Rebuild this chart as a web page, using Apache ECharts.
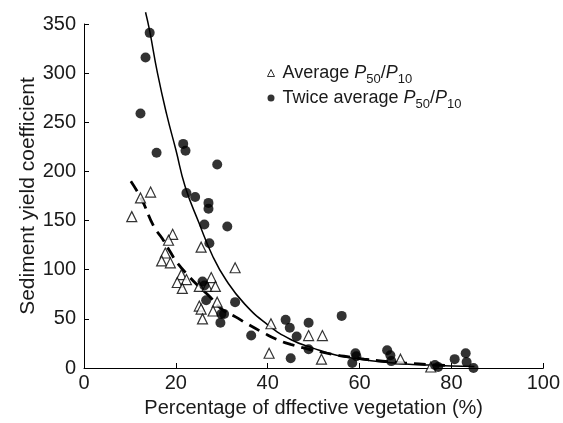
<!DOCTYPE html>
<html>
<head>
<meta charset="utf-8">
<script src="https://cdn.jsdelivr.net/npm/echarts@6/dist/echarts.min.js"></script>
<style>
  html, body { margin: 0; padding: 0; background: #fff; }
  #chart { width: 563px; height: 423px; }
</style>
</head>
<body>
<div id="chart"></div>
<script>
// average P50/P10 (open triangles)
const avgX = [10.4, 12.3, 14.5, 19.3, 18.4, 17.7, 16.9, 18.8, 21.2, 20.3, 22.3, 21.4, 25.5, 27.7, 25.1, 26.8,
  28.6, 32.9, 29.0, 25.1, 25.5, 28.1, 25.8, 40.7, 40.3, 48.9, 51.9, 51.7, 68.9, 75.5]
const avgY = [154, 173, 179, 136, 130, 117, 109, 107, 95, 87, 90, 81, 123, 92, 83, 83,
  83, 102, 67, 63, 60, 58, 50, 45, 15, 33, 33, 9, 9, 1]

// twice average P50/P10 (filled dots)
const twiceX = [14.3, 13.4, 12.3, 15.8, 21.6, 22.1, 29.0, 22.3, 24.2, 27.1, 27.1, 26.2, 31.2, 27.3, 25.8, 26.2,
  26.6, 29.9, 30.5, 29.7, 32.9, 36.4, 43.9, 44.8, 46.3, 48.9, 48.9, 45.0, 56.1, 59.1, 59.3, 58.4,
  66.0, 66.7, 66.9, 76.4, 77.1, 80.7, 83.1, 83.3, 84.8]
const twiceY = [341, 316, 259, 219, 228, 221, 207, 178, 174, 168, 162, 146, 144, 127, 88, 84,
  69, 55, 55, 46, 67, 33, 49, 41, 32, 46, 19, 10, 53, 15, 12, 5,
  18, 13, 7, 3, 1, 9, 15, 6, 0]

// fitted curves
const fitTwiceX = [13.4, 14.3, 16, 18, 20, 22, 25, 28, 31, 35, 40, 45, 50, 55, 60, 65, 70, 75, 80, 85]
const fitTwiceY = [362, 343, 300, 258, 222, 185, 148, 114, 89, 65, 44, 29, 20, 13, 9, 6, 4, 3, 2, 1.5]
const fitAvgX = [10.2, 12.6, 15.2, 17, 18.8, 20.3, 22.9, 25, 27.3, 30, 33, 35.5, 39, 42, 45, 50, 54, 58, 61, 65, 70, 75, 80]
const fitAvgY = [190, 171, 144, 132, 118, 107, 93, 83, 73, 60, 52, 45, 36, 29, 24, 18, 14, 11, 9, 7, 5, 3.5, 2.5]

const zip = (xs, ys) => xs.map((x, i) => [x, ys[i]])

const font = 'Liberation Sans, Arial, sans-serif'
const txt = '#1a1a1a'

const legendRich = {
  n: { fontSize: 18, fontFamily: font, color: txt, lineHeight: 26, verticalAlign: 'middle' },
  f: { fontSize: 18, fontFamily: font, color: txt, lineHeight: 26, verticalAlign: 'middle', padding: [0, 0, 0, 3] },
  i: { fontSize: 18, fontFamily: font, color: txt, fontStyle: 'italic', lineHeight: 26, verticalAlign: 'middle' },
  s: { fontSize: 13, fontFamily: font, color: txt, lineHeight: 13, verticalAlign: 'bottom' }
}

const chart = echarts.init(document.getElementById('chart'))
chart.setOption({
  backgroundColor: '#fff',
  animation: false,
  grid: { left: 84, right: 17, top: 24, bottom: 54 },
  legend: {
    orient: 'vertical',
    left: 262,
    top: 59,
    itemWidth: 7,
    itemHeight: 7,
    itemGap: 3,
    data: ['avg', 'twice'],
    itemStyle: { borderWidth: 1 },
    formatter: function (name) {
      if (name === 'avg') return '{f|Average }{i|P}{s|50}{n|/}{i|P}{s|10}'
      return '{f|Twice average }{i|P}{s|50}{n|/}{i|P}{s|10}'
    },
    textStyle: { rich: legendRich }
  },
  xAxis: {
    type: 'value',
    min: 0, max: 100, interval: 20,
    name: 'Percentage of dffective vegetation (%)',
    nameLocation: 'middle',
    nameGap: 30,
    nameMoveOverlap: false,
    nameTextStyle: { fontSize: 20, fontFamily: font, color: txt },
    axisLine: { lineStyle: { color: '#000', width: 1 } },
    axisTick: { inside: true, length: 5, lineStyle: { color: '#000' } },
    axisLabel: { fontSize: 20, fontFamily: font, color: txt, margin: 5 },
    splitLine: { show: false }
  },
  yAxis: {
    type: 'value',
    min: 0, max: 350, interval: 50,
    name: 'Sediment yield coefficient',
    nameLocation: 'middle',
    nameGap: 45,
    nameMoveOverlap: false,
    nameTextStyle: { fontSize: 21, fontFamily: font, color: txt },
    axisLine: { show: true, lineStyle: { color: '#000', width: 1 } },
    axisTick: { show: true, inside: true, length: 5, lineStyle: { color: '#000' } },
    axisLabel: { fontSize: 20, fontFamily: font, color: txt, margin: 8 },
    splitLine: { show: false }
  },
  series: [
    {
      name: 'fitTwice',
      type: 'line',
      data: zip(fitTwiceX, fitTwiceY),
      smooth: true,
      showSymbol: false,
      clip: false,
      lineStyle: { color: '#000', width: 1.5 },
      z: 3
    },
    {
      name: 'fitAvg',
      type: 'line',
      data: zip(fitAvgX, fitAvgY),
      smooth: true,
      showSymbol: false,
      lineStyle: { color: '#000', width: 2.8, type: [12, 7] },
      z: 3
    },
    {
      name: 'avg',
      type: 'scatter',
      data: zip(avgX, avgY),
      symbol: 'triangle',
      symbolSize: 10,
      itemStyle: { color: '#fff', borderColor: '#000', borderWidth: 1.2 },
      z: 4
    },
    {
      name: 'twice',
      type: 'scatter',
      data: zip(twiceX, twiceY),
      symbol: 'circle',
      symbolSize: 10,
      itemStyle: { color: '#000' },
      z: 5
    }
  ]
})
</script>
</body>
</html>
